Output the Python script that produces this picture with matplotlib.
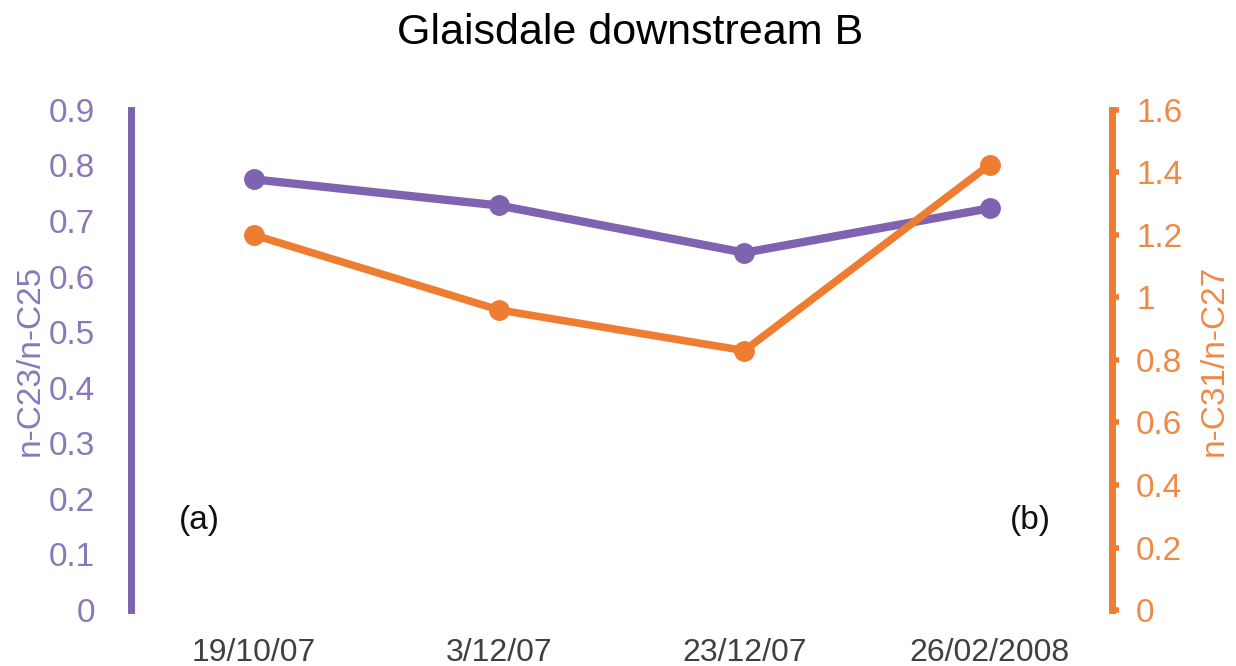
import matplotlib.pyplot as plt

plt.rcParams['font.family'] = ['Liberation Sans', 'DejaVu Sans']

dates = ['19/10/07', '3/12/07', '23/12/07', '26/02/2008']
c23_c25 = [0.775, 0.728, 0.643, 0.723]
c31_c27 = [1.20, 0.96, 0.83, 1.425]

purple = '#7f63b0'
orange = '#ee7d31'
x = range(len(dates))

fig = plt.figure(figsize=(12.36, 6.66), dpi=100)
ax = fig.add_axes([0.106, 0.084, 0.794, 0.751])
ax2 = ax.twinx()

ax.plot(x, c23_c25, color=purple, lw=6, marker='o', ms=14, zorder=3)
ax2.plot(x, c31_c27, color=orange, lw=5.5, marker='o', ms=14, zorder=3)

ax.set_xlim(-0.5, 3.5)
ax.set_ylim(0, 0.9)
ax2.set_ylim(0, 1.6)
ax.set_yticks([i / 10 for i in range(10)])
ax.set_yticklabels(['0'] + ['0.%d' % i for i in range(1, 10)])
ax2.set_yticks([i / 5 for i in range(9)])
ax2.set_yticklabels(['0', '0.2', '0.4', '0.6', '0.8', '1', '1.2', '1.4', '1.6'])
ax.set_xticks(list(x))
ax.set_xticklabels(dates)

for a in (ax, ax2):
    for s in ('top', 'bottom'):
        a.spines[s].set_visible(False)
ax.spines['right'].set_visible(False)
ax2.spines['left'].set_visible(False)
ax.spines['left'].set_color(purple)
ax.spines['left'].set_linewidth(5)
ax2.spines['right'].set_color(orange)
ax2.spines['right'].set_linewidth(5)

ax.tick_params(axis='y', length=0, pad=26, labelsize=24, labelcolor='#8a78b8')
ax.tick_params(axis='x', length=0, pad=20, labelsize=23, labelcolor='#404040')
ax2.tick_params(axis='y', length=5, width=4, color=orange, pad=12, labelsize=24,
                labelcolor='#ee8a48')

ax.set_ylabel('n-C23/n-C25', fontsize=24, color='#8a78b8', labelpad=2)
ax2.set_ylabel('n-C31/n-C27', fontsize=24, color='#ee8a48', labelpad=12)

ax.text(0.07, 0.18, '(a)', transform=ax.transAxes, fontsize=24, color='#111111',
        ha='center', va='center')
ax.text(0.916, 0.18, '(b)', transform=ax.transAxes, fontsize=24, color='#111111',
        ha='center', va='center')

fig.text(0.51, 0.95, 'Glaisdale downstream B', fontsize=31, ha='center', va='center')

fig.savefig('out.png', dpi=100)
